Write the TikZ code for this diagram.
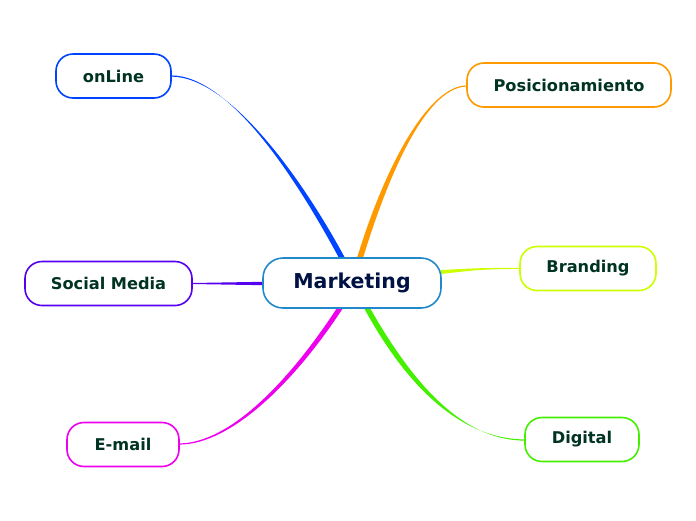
\documentclass[tikz,border=0pt]{standalone}
\usepackage{fontspec}
\setmainfont{DejaVu Sans}
\definecolor{cOn}{RGB}{0,68,255}
\definecolor{cPos}{RGB}{255,153,0}
\definecolor{cSoc}{RGB}{85,0,238}
\definecolor{cBr}{RGB}{204,255,0}
\definecolor{cEm}{RGB}{238,0,238}
\definecolor{cDi}{RGB}{68,240,0}
\definecolor{cMk}{RGB}{34,136,204}
\definecolor{tMk}{RGB}{0,17,68}
\definecolor{tBr}{RGB}{0,51,34}
\tikzset{
 topic/.style={draw=#1,line width=1.6pt,rounded corners=17pt,fill=white,minimum height=44pt,font=\bfseries\fontsize{16.2}{19}\selectfont,text=tBr,inner sep=0pt},
}
\begin{document}
\begin{tikzpicture}[x=1pt,y=1pt,yscale=-1]
\useasboundingbox (0,0) rectangle (696,520);
% tapered connectors
\fill[cOn] (339,258) .. controls (297,180) and (230,75.4) .. (171,75.4) -- (171,76.6) .. controls (230,76.6) and (303,180) .. (345,258) -- cycle;
\fill[cPos] (357,258) .. controls (387,160) and (430,85.4) .. (467,85.4) -- (467,86.6) .. controls (430,86.6) and (393,160) .. (363,258) -- cycle;
\fill[cSoc] (263,281.8) -- (192,283) -- (192,284) -- (263,285.2) -- cycle;
\fill[cBr] (441,270) .. controls (480,268) .. (520,267.8) -- (520,268.8) .. controls (480,269.5) .. (441,274) -- cycle;
\fill[cEm] (337,308) .. controls (290,380) and (230,443.4) .. (179,443.4) -- (179,444.6) .. controls (232,444.6) and (296,380) .. (343,308) -- cycle;
\fill[cDi] (364,308) .. controls (414,400) and (470,439.4) .. (525,439.4) -- (525,440.6) .. controls (472,440.6) and (422,400) .. (370,308) -- cycle;
% nodes
\node[topic=cMk,minimum width=178pt,minimum height=50pt,rounded corners=20pt,text=tMk,font=\bfseries\fontsize{20.5}{24}\selectfont] (m) at (352,283) {Marketing};
\node[topic=cOn,minimum width=115pt] (on) at (113.5,76) {onLine};
\node[topic=cPos,minimum width=204pt] (pos) at (569,85) {Posicionamiento};
\node[topic=cSoc,minimum width=167pt] (soc) at (108.5,283.5) {Social Media};
\node[topic=cBr,minimum width=136pt] (br) at (588,268.5) {Branding};
\node[topic=cEm,minimum width=112pt] (em) at (123,444.5) {E-mail};
\node[topic=cDi,minimum width=114pt] (di) at (582,439.5) {Digital};
\end{tikzpicture}
\end{document}
